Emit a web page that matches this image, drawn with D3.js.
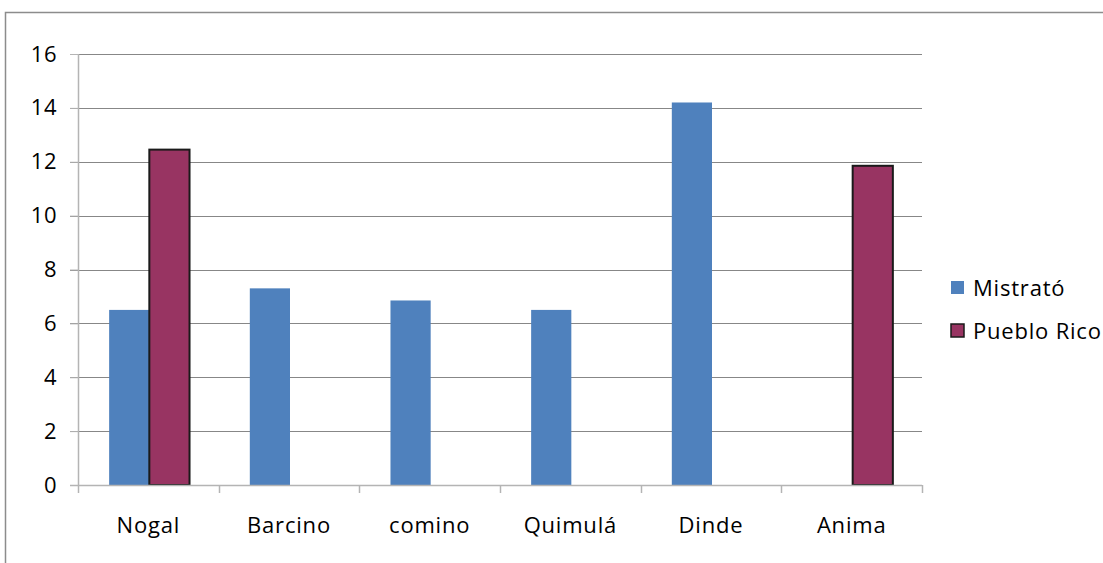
<!DOCTYPE html>
<html>
<head>
<meta charset="utf-8">
<script src="https://cdn.jsdelivr.net/npm/d3@7"></script>
<style>
    body { margin: 0; background: #fff; }
    text { font-family: "Open Sans", "Noto Sans", sans-serif; fill: #000; }
</style>
</head>
<body>
<svg id="chart"></svg>
<script>
const categories = ['Nogal', 'Barcino', 'comino', 'Quimulá', 'Dinde', 'Anima'];
const seriesNames = ['Mistrató', 'Pueblo Rico'];
const mistrato = [6.5, 7.3, 6.85, 6.5, 14.2, null];
const puebloRico = [12.45, null, null, null, null, 11.85];
const yTicks = [0, 2, 4, 6, 8, 10, 12, 14, 16];
const colors = ['#4f81bd', '#983462'];

const width = 1103, height = 563;
const margin = { top: 54, right: 181, bottom: 78, left: 78 };

const svg = d3.select('#chart')
    .attr('width', width)
    .attr('height', height);

// outer chart border (only left and top visible)
svg.append('rect')
    .attr('x', 5.5).attr('y', 12.5)
    .attr('width', 1110).attr('height', 570)
    .attr('fill', 'none')
    .attr('stroke', '#8c8c8c')
    .attr('stroke-width', 1.5);

const innerW = width - margin.left - margin.right;
const innerH = height - margin.top - margin.bottom;

const x = d3.scaleBand().domain(categories).range([0, innerW]).padding(0);
const y = d3.scaleLinear().domain([0, 16]).range([innerH, 0]);

const g = svg.append('g').attr('transform', `translate(${margin.left},${margin.top})`);

// gridlines
g.append('g')
    .selectAll('line')
    .data(yTicks.filter(d => d > 0))
    .join('line')
    .attr('x1', -8).attr('x2', innerW)
    .attr('y1', d => Math.round(y(d)) + 0.5).attr('y2', d => Math.round(y(d)) + 0.5)
    .attr('stroke', '#878787')
    .attr('stroke-width', 1);

// bars
const barW = x.bandwidth() / 3.5;
const data = [];
categories.forEach((c, i) => {
    if (mistrato[i] != null) data.push({ cat: c, s: 0, v: mistrato[i] });
    if (puebloRico[i] != null) data.push({ cat: c, s: 1, v: puebloRico[i] });
});

g.selectAll('rect.bar')
    .data(data)
    .join('rect')
    .attr('class', 'bar')
    .attr('x', d => x(d.cat) + x.bandwidth() / 2 - barW + d.s * barW + 1)
    .attr('width', barW)
    .attr('y', d => y(d.v))
    .attr('height', d => innerH - y(d.v))
    .attr('fill', d => colors[d.s])
    .attr('stroke', d => d.s === 1 ? '#1a1a1a' : 'none')
    .attr('stroke-width', 2);

// y axis
const yAxis = g.append('g')
    .call(d3.axisLeft(y).tickValues(yTicks).tickSize(8).tickPadding(13).tickFormat(d3.format('d')));
yAxis.select('.domain').attr('stroke', '#b4b4b4').attr('stroke-width', 1.5).attr('d', `M0.5,0V${innerH}`);
yAxis.selectAll('.tick line').attr('stroke', '#b4b4b4');
yAxis.selectAll('.tick text').style('font-size', '22px').style('letter-spacing', '0.5px');

// x axis
const xAxis = g.append('g')
    .attr('transform', `translate(0,${innerH})`)
    .call(d3.axisBottom(x).tickSize(0).tickPadding(32));
xAxis.select('.domain').attr('stroke', '#b4b4b4').attr('stroke-width', 1.5).attr('d', `M-8,0.5H${innerW}`);
xAxis.selectAll('.tick text').style('font-size', '22px').style('letter-spacing', '0.8px');

g.append('g')
    .selectAll('line')
    .data(d3.range(categories.length + 1))
    .join('line')
    .attr('x1', i => Math.round(i * x.bandwidth()) + 0.5)
    .attr('x2', i => Math.round(i * x.bandwidth()) + 0.5)
    .attr('y1', innerH).attr('y2', innerH + 8)
    .attr('stroke', '#b4b4b4')
    .attr('stroke-width', 1.5);

// legend
const legend = svg.append('g').attr('transform', 'translate(951,281)');
const item = legend.selectAll('g')
    .data(seriesNames)
    .join('g')
    .attr('transform', (d, i) => `translate(0,${i * 43})`);
item.append('rect')
    .attr('width', 13).attr('height', 13)
    .attr('fill', (d, i) => colors[i])
    .attr('stroke', (d, i) => i === 1 ? '#1a1a1a' : 'none')
    .attr('stroke-width', 1.5);
item.append('text')
    .attr('x', 22).attr('y', 15)
    .style('font-size', '22px')
    .style('letter-spacing', '0.8px')
    .text(d => d);
</script>
</body>
</html>
